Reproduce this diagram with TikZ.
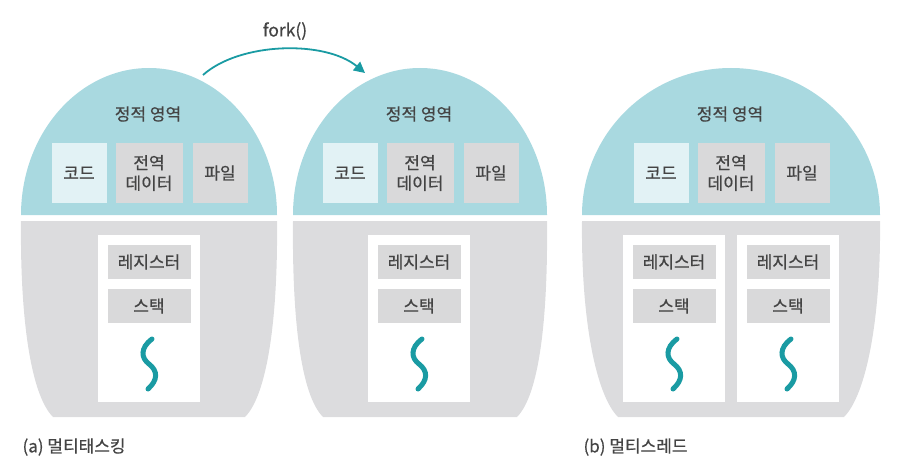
\documentclass[tikz,border=0pt]{standalone}
\usepackage{fontspec}
\setmainfont{Noto Sans CJK KR}[FakeBold=0.6]
\usepackage{tikz}
\usetikzlibrary{arrows.meta}
\definecolor{domeblue}{HTML}{A9D9E0}
\definecolor{bodygray}{HTML}{DCDCDE}
\definecolor{boxgray}{HTML}{D9D9DA}
\definecolor{codeblue}{HTML}{E2F2F5}
\definecolor{threadteal}{HTML}{1A9BA3}
\definecolor{textgray}{HTML}{444444}

\begin{document}
\begin{tikzpicture}[x=1pt,y=-1pt,
    txt/.style={text=textgray,font=\fontsize{17}{20.5}\selectfont},
    seg/.style={txt,fill=boxgray,minimum height=60pt,align=center,inner sep=0pt},
    regbox/.style={txt,fill=boxgray,minimum width=83pt,minimum height=34pt,inner sep=0pt},
    threadbox/.style={fill=white,minimum width=102pt,minimum height=167pt,inner sep=0pt},
    thread/.style={draw=threadteal,line width=5pt,line cap=round}]
      \useasboundingbox (0,0) rectangle (912,473);

      % process bodies: static area on top, gray part below
      \foreach \i/\cx/\rx/\bx in {1/149/128/96, 2/420/127/97, 3/731/149/113} {
      	\fill[domeblue] ({\cx-\rx},215) .. controls ({\cx-\rx},134) and ({\cx-0.552*\rx},68) .. (\cx,68)
      	  .. controls ({\cx+0.552*\rx},68) and ({\cx+\rx},134) .. ({\cx+\rx},215) -- cycle;
      	\fill[bodygray] ({\cx-\rx},221) -- ({\cx+\rx},221)
      	  .. controls ({\cx+\rx+1},320) and ({\cx+\bx+22},395) .. ({\cx+\bx},417)
      	  -- ({\cx-\bx},417)
      	  .. controls ({\cx-\bx-22},395) and ({\cx-\rx-1},320) .. ({\cx-\rx},221) -- cycle;
      	\node[txt] (static\i) at ({\cx-1},114) {정적 영역};
      	\node[seg,fill=codeblue,minimum width=55pt] (code\i) at ({\cx-70},173) {코드};
      	\node[seg,minimum width=67pt] (data\i) at (\cx,173) {전역\\데이터};
      	\node[seg,minimum width=55pt] (file\i) at ({\cx+71},173) {파일};
      }

      % threads: registers, stack and the thread line
      \foreach \j/\tx in {1/149, 2/419, 3/674, 4/788} {
      	\node[threadbox] (thr\j) at (\tx,318) {};
      	\node[regbox] (reg\j) at (\tx,262) {레지스터};
      	\node[regbox] (stack\j) at (\tx,306) {스택};
      	\draw[thread] ({\tx+3},339) .. controls ({\tx-9},348) and ({\tx-8},358) .. (\tx,364)
      	  .. controls ({\tx+9},371) and ({\tx+9},380) .. ({\tx-1},389);
      }

      \coordinate (forkA) at (203,75);
      \coordinate (forkB) at (365,73);
      \draw[threadteal,line width=1.8pt,-{Triangle[length=11pt,width=11pt]}]
        (forkA) .. controls (240,42) and (325,40) .. (forkB);
      \node[txt,font=\fontsize{17.5}{20}\selectfont] (forklbl) at (285,31) {fork()};

      \node[txt,anchor=west] (capa) at (19,447) {(a) 멀티태스킹};
      \node[txt,anchor=west] (capb) at (580,447) {(b) 멀티스레드};

\end{tikzpicture}
\end{document}
